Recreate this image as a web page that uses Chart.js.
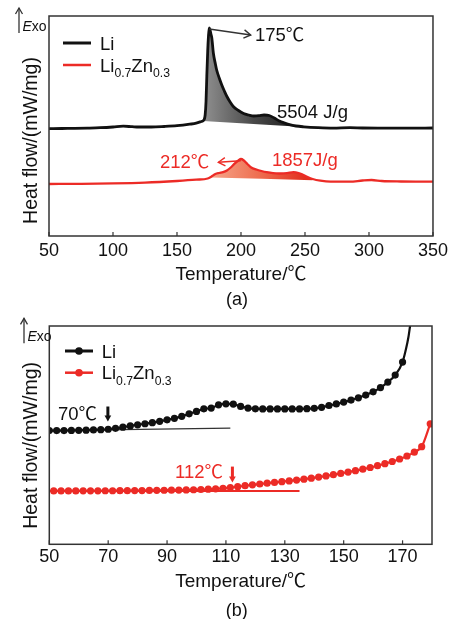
<!DOCTYPE html>
<html>
<head>
<meta charset="utf-8">
<script src="https://cdn.jsdelivr.net/npm/chart.js@4"></script>
<style>
body { margin: 0; background: #fff; }
canvas { display: block; }
</style>
</head>
<body>
<canvas id="dscA" width="452" height="310"></canvas>
<canvas id="dscB" width="452" height="309"></canvas>
<script>
// ---- (a) full DSC scan, 50-350 C (heat flow in arbitrary units) ----
const tickA = [50, 100, 150, 200, 250, 300, 350];
const liTempA = [50,60,70,80,90,100,108,115,120,130,140,150,160,165,169,171,172,172.7,173.3,174,174.6,175.2,175.8,176.5,177.2,178.4,180,181,183,185,187,189,191.5,194,198,202,206,210,214,218,222,226,230,234,238,243,249,260,272,285,295,310,330,350];
const liFlowA = [107.3,107.5,107.6,107.9,108.3,109,109.8,109.3,109,109,109.5,110.3,111.8,112.8,114.5,116,121,135,160,185,200,208,206,202,198,183,172,166,158,151,145,139.5,134,129.5,125.5,122.5,121,120,120.3,121,120.5,118,115,113,111.3,110,109.2,108.3,107.8,108.3,108,107.9,107.9,108];
const znTempA = [50,75,100,125,150,165,174,177,180,183,186,189,192,195,198,200,202,205,208,212,216,220,225,230,236,241,245,248,252,256,262,270,285,295,302,310,325,350];
const znFlowA = [52,52.2,52.6,53.4,55,56.3,57.5,59.5,62,63,63.8,65.5,68.5,72.3,75.5,77,75.8,72,68.5,66.5,65,63.8,62.8,62.5,62.8,63.8,63,61.5,59,57,55.3,54.3,54.3,55.5,56,55,54.5,54.3];
// integration baselines under the exotherms
const liBaseTemp = [170, 258];
const liBaseFlow = [115, 108.4];
const znBaseTemp = [176, 260];
const znBaseFlow = [58.5, 55.7];

// ---- (b) onset region, 50-180 C ----
const tickB = [50, 70, 90, 110, 130, 150, 170];
const liTempB = [50,52.5,55,57.5,60,62.5,65,67.5,70,72.5,75,77.5,80,82.5,85,87.5,90,92.5,95,97.5,100,102.5,105,107.5,110,112.5,115,117.5,120,122.5,125,127.5,130,132.5,135,137.5,140,142.5,145,147.5,150,152.5,155,157.5,160,162.5,165,167.5,170,171,172,173];
const liFlowB = [113.6,113.6,113.6,113.7,113.8,114,114.2,114.5,114.9,115.8,117,118.2,119.3,120.4,121.5,122.8,124.3,125.8,127.8,130.3,132.7,135.3,136,139.3,140.3,140,137.7,136,135.3,135.2,135.2,135.2,135.2,135.2,135.2,135.4,135.8,136.8,138.6,140.2,142,144,146.3,149,152.3,156.5,162,169,182,193,207,228];
const znTempB = [51.5,54,56.5,59,61.5,64,66.5,69,71.5,74,76.5,79,81.5,84,86.5,89,91.5,94,96.5,99,101.5,104,106.5,109,111.5,114,116.5,119,121.5,124,126.5,129,131.5,134,136.5,139,141.5,144,146.5,149,151.5,154,156.5,159,161.5,164,166.5,169,171.5,174,176.5,179.4];
const znFlowB = [53.3,53.3,53.3,53.3,53.4,53.4,53.4,53.5,53.5,53.6,53.6,53.7,53.7,53.8,53.9,54,54.1,54.2,54.3,54.5,54.7,55,55.4,55.9,56.6,57.5,58.5,59.4,60.2,61,61.8,62.5,63.3,64.1,65,66,67.1,68.3,69.5,70.8,72.1,73.5,75,76.7,78.5,80.5,82.7,85.2,88.2,92,97.5,120.3];
// onset tangents
const liTanTemp = [50, 111.5];
const liTanFlow = [113.6, 116];
const znTanTemp = [50, 135];
const znTanFlow = [53.3, 53.3];

const seriesNames = ['Li', 'Li0.7Zn0.3'];

const FONT = '"Liberation Sans", Arial, "Noto Sans CJK SC", sans-serif';
const INK = '#111';
const RED = '#ec2b26';
Chart.defaults.font.family = FONT;

const pts = (xs, ys) => xs.map((x, i) => ({x: x, y: ys[i]}));
const between = (xs, ys, lo, hi) => pts(xs, ys).filter(p => p.x >= lo && p.x <= hi);

function sweep(stops, from, to) {
    return ctx => {
        const chart = ctx.chart;
        if (!chart.chartArea) return 'transparent';
        const x = chart.scales.x;
        const g = chart.ctx.createLinearGradient(x.getPixelForValue(from), 0, x.getPixelForValue(to), 0);
        stops.forEach((c, i) => g.addColorStop(i / (stops.length - 1), c));
        return g;
    };
}

// draw "Li0.7Zn0.3" with the numbers as subscripts
function formula(ctx, text, x, y, size) {
    text.split(/(\d+\.\d+)/).filter(s => s).forEach(part => {
        const sub = /\d/.test(part);
        ctx.font = (sub ? size * 0.66 : size) + 'px ' + FONT;
        ctx.fillText(part, x, y + (sub ? size * 0.3 : 0));
        x += ctx.measureText(part).width;
    });
}

function head(ctx, x0, y0, x1, y1, solid) {
    const a = Math.atan2(y1 - y0, x1 - x0);
    const len = solid ? 7 : 8, w = solid ? 0.5 : 0.55;
    ctx.beginPath();
    ctx.moveTo(x1 - len * Math.cos(a - w), y1 - len * Math.sin(a - w));
    ctx.lineTo(x1, y1);
    ctx.lineTo(x1 - len * Math.cos(a + w), y1 - len * Math.sin(a + w));
    if (solid) { ctx.closePath(); ctx.fill(); } else ctx.stroke();
}

const decor = {
    id: 'decor',
    afterDatasetsDraw(chart, args, o) {
        const {ctx, chartArea: a, scales: {x, y}} = chart;
        ctx.save();

        // box and inward ticks
        ctx.strokeStyle = '#333';
        ctx.lineWidth = 1.5;
        ctx.strokeRect(a.left, a.top, a.right - a.left, a.bottom - a.top);
        ctx.lineWidth = 1.2;
        x.ticks.forEach(t => {
            const px = x.getPixelForValue(t.value);
            ctx.beginPath();
            ctx.moveTo(px, a.bottom);
            ctx.lineTo(px, a.bottom - 4);
            ctx.stroke();
        });

        // legend
        ctx.textBaseline = 'alphabetic';
        seriesNames.forEach((name, i) => {
            const ly = a.top + o.rows[i];
            const col = i ? RED : INK;
            ctx.strokeStyle = col;
            ctx.fillStyle = col;
            ctx.lineWidth = i ? 2.5 : 3;
            ctx.beginPath();
            ctx.moveTo(a.left + o.lx, ly);
            ctx.lineTo(a.left + o.lx + 28, ly);
            ctx.stroke();
            if (o.markers) {
                ctx.beginPath();
                ctx.arc(a.left + o.lx + 14, ly, 3.8, 0, Math.PI * 2);
                ctx.fill();
            }
            ctx.fillStyle = INK;
            formula(ctx, name, a.left + o.tx, ly + 6.5, 18.5);
        });

        // Exo arrow
        ctx.strokeStyle = '#333';
        ctx.fillStyle = INK;
        ctx.lineWidth = 1.3;
        const ex = a.left + o.exo[0];
        ctx.beginPath();
        ctx.moveTo(ex, a.top + o.exo[2]);
        ctx.lineTo(ex, a.top + o.exo[1]);
        ctx.stroke();
        ctx.beginPath();
        ctx.moveTo(ex - 3.5, a.top + o.exo[1] + 6);
        ctx.lineTo(ex, a.top + o.exo[1]);
        ctx.lineTo(ex + 3.5, a.top + o.exo[1] + 6);
        ctx.stroke();
        ctx.textBaseline = 'middle';
        ctx.font = 'italic 14px ' + FONT;
        ctx.fillText('E', ex + 3.5, a.top + o.exo[3]);
        const ew = ctx.measureText('E').width;
        ctx.font = '14px ' + FONT;
        ctx.fillText('xo', ex + 3.5 + ew, a.top + o.exo[3]);

        // y title
        ctx.save();
        ctx.translate(o.yTitleX, (a.top + a.bottom) / 2 + o.yTitleDy);
        ctx.rotate(-Math.PI / 2);
        ctx.textAlign = 'center';
        ctx.font = '19.5px ' + FONT;
        ctx.fillText('Heat flow/(mW/mg)', 0, 0);
        ctx.restore();

        // arrows and notes
        o.arrows.forEach(ar => {
            const x0 = x.getPixelForValue(ar.from[0]), y0 = y.getPixelForValue(ar.from[1]);
            const x1 = x.getPixelForValue(ar.to[0]), y1 = y.getPixelForValue(ar.to[1]);
            ctx.strokeStyle = ar.color;
            ctx.fillStyle = ar.color;
            ctx.lineWidth = ar.solid ? 3 : 1.4;
            ctx.beginPath();
            ctx.moveTo(x0, y0);
            ctx.lineTo(x1, ar.solid ? y1 - 5 : y1);
            ctx.stroke();
            ctx.lineWidth = 1.4;
            head(ctx, x0, y0, x1, y1, ar.solid);
        });
        ctx.font = '18.5px ' + FONT;
        ctx.textAlign = 'left';
        o.notes.forEach(n => {
            ctx.fillStyle = n.color;
            ctx.fillText(n.text, x.getPixelForValue(n.x), y.getPixelForValue(n.y));
        });

        // panel tag
        ctx.fillStyle = INK;
        ctx.textAlign = 'center';
        ctx.font = '18px ' + FONT;
        ctx.fillText(o.tag, (a.left + a.right) / 2 - 4, o.tagY);
        ctx.restore();
    }
};

function xAxis(min, max, ticks, tickPad, titlePad, height) {
    return {
        type: 'linear', min: min, max: max,
        afterBuildTicks: s => { s.ticks = ticks.map(v => ({value: v})); },
        afterFit: s => { s.height = height; },
        grid: {display: false, drawTicks: false},
        border: {display: false},
        ticks: {color: INK, padding: tickPad, font: {size: 18}, maxRotation: 0},
        title: {display: true, text: 'Temperature/℃', color: INK, font: {size: 19}, padding: {top: 0, bottom: titlePad}}
    };
}

const line = (data, color, width) => ({
    data: data, borderColor: color, borderWidth: width, pointRadius: 0,
    fill: false, cubicInterpolationMode: 'monotone'
});

new Chart(document.getElementById('dscA'), {
    type: 'line',
    data: {
        datasets: [
            line(pts(liTempA, liFlowA), INK, 2.8),
            line(pts(znTempA, znFlowA), RED, 2.3),
            Object.assign(line(between(liTempA, liFlowA, 170, 258), 'transparent', 0),
                {fill: 3, backgroundColor: sweep(['#8a8a8a', '#4a4a4a', '#1a1a1a'], 174, 245)}),
            line(pts(liBaseTemp, liBaseFlow), 'transparent', 0),
            Object.assign(line(between(znTempA, znFlowA, 176, 260), 'transparent', 0),
                {fill: 5, backgroundColor: sweep(['#f5a488', '#ee6e50', '#e2301f'], 178, 250)}),
            line(pts(znBaseTemp, znBaseFlow), 'transparent', 0)
        ]
    },
    options: {
        responsive: false,
        animation: false,
        layout: {padding: {left: 49, right: 19, top: 16, bottom: 22}},
        scales: {
            x: xAxis(50, 350, tickA, 4, 1.6, 52),
            y: {display: false, min: 0, max: 220}
        },
        plugins: {
            legend: {display: false},
            tooltip: {enabled: false},
            decor: {
                rows: [27, 49], lx: 14, tx: 51, markers: false,
                exo: [-30, -8, 17, 11],
                yTitleX: 32, yTitleDy: 14.5,
                tag: '(a)', tagY: 300,
                arrows: [
                    {from: [175.2, 207], to: [207.6, 201], color: '#333'},
                    {from: [199.8, 75.3], to: [182.3, 73.7], color: RED}
                ],
                notes: [
                    {text: '175℃', x: 210.9, y: 200, color: INK},
                    {text: '5504 J/g', x: 228.1, y: 123, color: INK},
                    {text: '212℃', x: 136.7, y: 73, color: RED},
                    {text: '1857J/g', x: 224.2, y: 75, color: RED}
                ]
            }
        }
    },
    plugins: [decor]
});

new Chart(document.getElementById('dscB'), {
    type: 'line',
    data: {
        datasets: [
            Object.assign(line(pts(liTempB, liFlowB), INK, 2.2), {
                pointRadius: c => (c.raw && c.raw.x > 170 ? 0 : 3.6),
                pointBackgroundColor: INK, pointBorderWidth: 0
            }),
            Object.assign(line(pts(znTempB, znFlowB), RED, 2.2), {
                pointRadius: 3.6, pointBackgroundColor: RED, pointBorderWidth: 0
            }),
            Object.assign(line(pts(liTanTemp, liTanFlow), '#333', 1.2), {cubicInterpolationMode: 'default'}),
            Object.assign(line(pts(znTanTemp, znTanFlow), RED, 2), {cubicInterpolationMode: 'default'})
        ]
    },
    options: {
        responsive: false,
        animation: false,
        layout: {padding: {left: 49.3, right: 20, top: 16, bottom: 22}},
        scales: {
            x: xAxis(50, 180, tickB, 1.6, 3.9, 52.7),
            y: {display: false, min: 0, max: 218}
        },
        plugins: {
            legend: {display: false},
            tooltip: {enabled: false},
            decor: {
                rows: [25, 46.7], lx: 15.7, tx: 52.4, markers: true,
                exo: [-25.3, -7.7, 17.3, 10.7],
                yTitleX: 31.7, yTitleDy: 10.3,
                tag: '(b)', tagY: 301,
                arrows: [
                    {from: [69.9, 137.6], to: [69.9, 122.6], color: INK, solid: true},
                    {from: [112.2, 77.6], to: [112.2, 61.6], color: RED, solid: true}
                ],
                notes: [
                    {text: '70℃', x: 52.95, y: 129.3, color: INK},
                    {text: '112℃', x: 92.7, y: 71, color: RED}
                ]
            }
        }
    },
    plugins: [decor]
});
</script>
</body>
</html>
